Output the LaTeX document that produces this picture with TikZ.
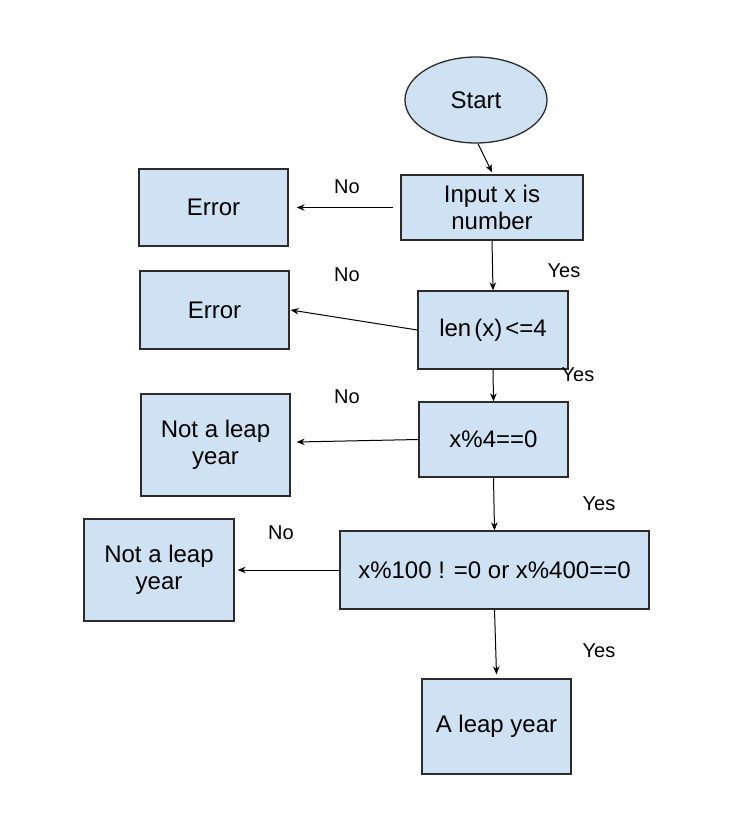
\documentclass[tikz,border=0pt]{standalone}
\usepackage{fontspec}
\setmainfont{Liberation Sans}
\usetikzlibrary{arrows.meta,shapes.geometric}
\definecolor{boxfill}{HTML}{CFE2F3}
\definecolor{boxline}{HTML}{2B2B2B}
\tikzset{
  box/.style={draw=boxline,fill=boxfill,line width=1.3pt,rectangle,inner sep=0pt,align=center,font=\fontsize{24}{27.5}\selectfont},
  oval/.style={draw=boxline,fill=boxfill,line width=1.3pt,ellipse,inner sep=0pt,align=center,font=\fontsize{24}{27.5}\selectfont},
  lbl/.style={font=\fontsize{20}{22}\selectfont,inner sep=0pt},
  arr/.style={draw=black,line width=1pt,-{Stealth[length=8pt,width=6.5pt]}}
}
\begin{document}
\begin{tikzpicture}[x=1pt,y=-1pt]
\useasboundingbox[fill=white] (0,0) rectangle (736,832);
\node[oval,minimum width=142pt,minimum height=86pt] (start) at (476,100) {Start};
\node[box,minimum width=182pt,minimum height=65pt] (in) at (492,207.5) {Input x is\\number};
\node[box,minimum width=149pt,minimum height=77pt] (err1) at (213.5,207.5) {Error};
\node[box,minimum width=149pt,minimum height=78pt] (err2) at (214.5,310) {Error};
\node[box,minimum width=150pt,minimum height=78pt] (len) at (493,330) {len\hspace{3pt}(x)\hspace{3pt}<=4};
\node[box,minimum width=149pt,minimum height=75pt] (mod4) at (493.5,439.5) {x\%4==0};
\node[box,minimum width=149pt,minimum height=102pt] (nl1) at (215.5,445) {Not a leap\\year};
\node[box,minimum width=309pt,minimum height=78pt] (big) at (494.5,570) {x\%100 ! =0 or x\%400==0};
\node[box,minimum width=150pt,minimum height=102pt] (nl2) at (159,570) {Not a leap\\year};
\node[box,minimum width=149pt,minimum height=95pt] (leap) at (496.5,726.5) {A leap year};

\draw[arr] ([xshift=2pt]start.south) -- ([yshift=2pt]in.north);
\draw[arr] (in.south) -- (len.north);
\draw[arr] ([xshift=-7pt]in.west) -- ([xshift=8pt]err1.east);
\draw[arr] (len.west) -- ([xshift=1pt]err2.east);
\draw[arr] (len.south) -- (mod4.north);
\draw[arr] (mod4.west) -- ([xshift=6pt,yshift=3pt]nl1.east);
\draw[arr] (mod4.south) -- (big.north);
\draw[arr] (big.west) -- ([xshift=3pt]nl2.east);
\draw[arr] (big.south) -- ([yshift=4pt]leap.north);

\node[lbl] (l1) at (347,187) {No};
\node[lbl] (l2) at (347,275) {No};
\node[lbl] (l3) at (564,271) {Yes};
\node[lbl] (l4) at (578,375) {Yes};
\node[lbl] (l5) at (347,397) {No};
\node[lbl] (l6) at (599,504) {Yes};
\node[lbl] (l7) at (281,533) {No};
\node[lbl] (l8) at (599,651) {Yes};
\end{tikzpicture}
\end{document}
